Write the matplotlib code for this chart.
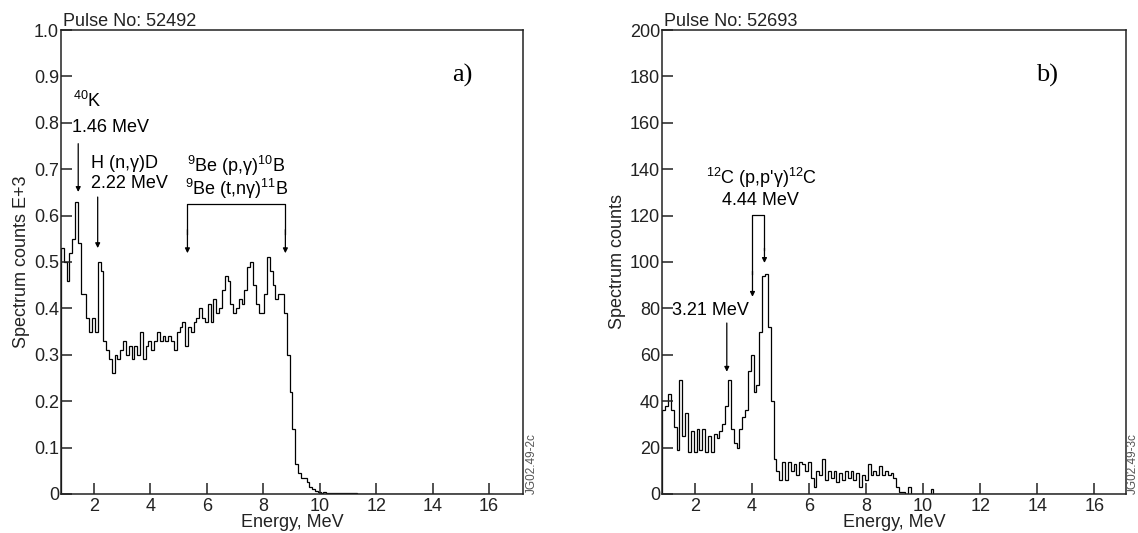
import numpy as np
import matplotlib
matplotlib.use("Agg")
import matplotlib.pyplot as plt

plt.rcParams["font.family"] = ["Liberation Sans", "DejaVu Sans"]
plt.rcParams["mathtext.fontset"] = "custom"
plt.rcParams["mathtext.rm"] = "Liberation Sans"
plt.rcParams["mathtext.it"] = "Liberation Sans"

# ---- data ----
BIN = 0.1
edges_a_start = 0.83
counts_a = [  # spectrum counts E+3, pulse 52492
    0.53, 0.50, 0.46, 0.52, 0.55, 0.63, 0.54, 0.43, 0.43, 0.38,
    0.35, 0.38, 0.35, 0.50, 0.48, 0.33, 0.31, 0.29, 0.26, 0.30,
    0.29, 0.31, 0.33, 0.30, 0.32, 0.29, 0.32, 0.30, 0.35, 0.29,
    0.32, 0.33, 0.31, 0.33, 0.35, 0.33, 0.34, 0.33, 0.34, 0.33,
    0.31, 0.35, 0.36, 0.37, 0.32, 0.36, 0.35, 0.37, 0.38, 0.40,
    0.38, 0.37, 0.41, 0.37, 0.42, 0.39, 0.40, 0.44, 0.47, 0.46,
    0.41, 0.39, 0.40, 0.42, 0.41, 0.44, 0.49, 0.50, 0.45, 0.41,
    0.39, 0.39, 0.43, 0.51, 0.48, 0.45, 0.42, 0.43, 0.43, 0.39,
    0.30, 0.22, 0.14, 0.065, 0.045, 0.035, 0.035, 0.025, 0.015, 0.010,
    0.007, 0.004, 0.003, 0.004, 0.002, 0.003, 0.002, 0.003, 0.002, 0.003,
    0.002, 0.003, 0.002, 0.003, 0.002,
] + [0.0] * 48

edges_b_start = 0.86
counts_b = [  # spectrum counts, pulse 52693
    36, 38, 43, 36, 29, 19, 49, 25, 35, 18,
    27, 18, 28, 19, 28, 18, 25, 18, 26, 24,
    27, 30, 38, 49, 28, 22, 20, 28, 33, 36,
    53, 60, 44, 47, 70, 94, 95, 72, 40, 15,
    10, 6, 14, 6, 14, 10, 13, 8, 14, 13,
    10, 14, 7, 3, 10, 8, 15, 6, 10, 7,
    10, 5, 9, 6, 10, 7, 10, 6, 9, 3,
    8, 6, 13, 8, 10, 8, 12, 8, 10, 8,
    9, 7, 3, 1, 1, 0, 3, 0, 0, 0,
    0, 0, 0, 0, 2, 0,
] + [0] * 56

xticks = [2, 4, 6, 8, 10, 12, 14, 16]
yticks_a = [0, 0.1, 0.2, 0.3, 0.4, 0.5, 0.6, 0.7, 0.8, 0.9, 1.0]
ytick_labels_a = ["0", "0.1", "0.2", "0.3", "0.4", "0.5", "0.6", "0.7", "0.8", "0.9", "1.0"]
yticks_b = list(range(0, 201, 20))

FS = 13
DARK = "#222222"


def style(ax, xlim, ylim):
    ax.set_xlim(*xlim)
    ax.set_ylim(*ylim)
    ax.set_xticks(xticks)
    ax.tick_params(direction="in", length=8, width=1.1, color=DARK,
                   labelsize=FS, labelcolor=DARK, top=False, right=False)
    ax.tick_params(axis="y", pad=1.5)
    ax.tick_params(axis="x", pad=3)
    for s in ax.spines.values():
        s.set_color(DARK)
        s.set_linewidth(1.1)
    ax.set_xlabel("Energy, MeV", fontsize=FS, color=DARK, labelpad=-1)


def arrow(ax, x, y0, y1):
    ax.annotate("", xy=(x, y1), xytext=(x, y0),
                arrowprops=dict(arrowstyle="-|>", lw=0.9, color="k",
                                mutation_scale=7, shrinkA=0, shrinkB=0))


fig = plt.figure(figsize=(11.38, 5.33), dpi=100)
ax1 = fig.add_axes([0.0536, 0.0732, 0.406, 0.8705])
ax2 = fig.add_axes([0.582, 0.0732, 0.4072, 0.8705])

# ---- panel a ----
e_a = edges_a_start + BIN * np.arange(len(counts_a) + 1)
ax1.stairs(counts_a, e_a, color="k", lw=0.9)
style(ax1, (0.83, 17.2), (0, 1.0))
ax1.set_yticks(yticks_a)
ax1.set_yticklabels(ytick_labels_a)
ax1.set_ylabel("Spectrum counts E+3", fontsize=FS, color=DARK, labelpad=3)
ax1.text(0.004, 1.0, "Pulse No: 52492", transform=ax1.transAxes,
         fontsize=FS, color=DARK, va="bottom", ha="left")
ax1.text(0.868, 0.903, "a)", transform=ax1.transAxes, fontsize=19,
         family="Liberation Serif", ha="center", va="center")
ax1.text(1.02, 0.0, "JG02.49-2c", transform=ax1.transAxes, rotation=90,
         fontsize=8.5, color="#555555", ha="center", va="bottom")

ax1.text(1.25, 0.848, "$^{40}$K", fontsize=FS, ha="left", va="center")
ax1.text(1.22, 0.79, "1.46 MeV", fontsize=FS, ha="left", va="center")
arrow(ax1, 1.44, 0.755, 0.651)
ax1.text(1.9, 0.713, "H (n,γ)D", fontsize=FS, ha="left", va="center")
ax1.text(1.9, 0.67, "2.22 MeV", fontsize=FS, ha="left", va="center")
arrow(ax1, 2.13, 0.64, 0.53)
ax1.text(7.04, 0.707, "$^{9}$Be (p,γ)$^{10}$B", fontsize=FS, ha="center", va="center")
ax1.text(7.04, 0.657, "$^{9}$Be (t,nγ)$^{11}$B", fontsize=FS, ha="center", va="center")
ax1.plot([5.31, 5.31, 8.78, 8.78], [0.56, 0.625, 0.625, 0.56], color="k", lw=0.9)
arrow(ax1, 5.31, 0.57, 0.519)
arrow(ax1, 8.78, 0.57, 0.519)

# ---- panel b ----
e_b = edges_b_start + BIN * np.arange(len(counts_b) + 1)
ax2.stairs(counts_b, e_b, color="k", lw=0.9)
style(ax2, (0.86, 17.1), (0, 200))
ax2.set_yticks(yticks_b)
ax2.set_ylabel("Spectrum counts", fontsize=FS, color=DARK, labelpad=3)
ax2.text(0.004, 1.0, "Pulse No: 52693", transform=ax2.transAxes,
         fontsize=FS, color=DARK, va="bottom", ha="left")
ax2.text(0.83, 0.903, "b)", transform=ax2.transAxes, fontsize=19,
         family="Liberation Serif", ha="center", va="center")
ax2.text(1.016, 0.0, "JG02.49-3c", transform=ax2.transAxes, rotation=90,
         fontsize=8.5, color="#555555", ha="center", va="bottom")

ax2.text(4.35, 136.2, "$^{12}$C (p,p'γ)$^{12}$C", fontsize=FS, ha="center", va="center")
ax2.text(4.29, 126.7, "4.44 MeV", fontsize=FS, ha="center", va="center")
ax2.plot([4.02, 4.02, 4.44, 4.44], [95, 120.3, 120.3, 105], color="k", lw=0.9)
arrow(ax2, 4.02, 96, 85)
arrow(ax2, 4.44, 106, 99.6)
ax2.text(1.2, 79.3, "3.21 MeV", fontsize=FS, ha="left", va="center")
arrow(ax2, 3.12, 73.7, 52.7)

fig.savefig("out.png", dpi=100)
